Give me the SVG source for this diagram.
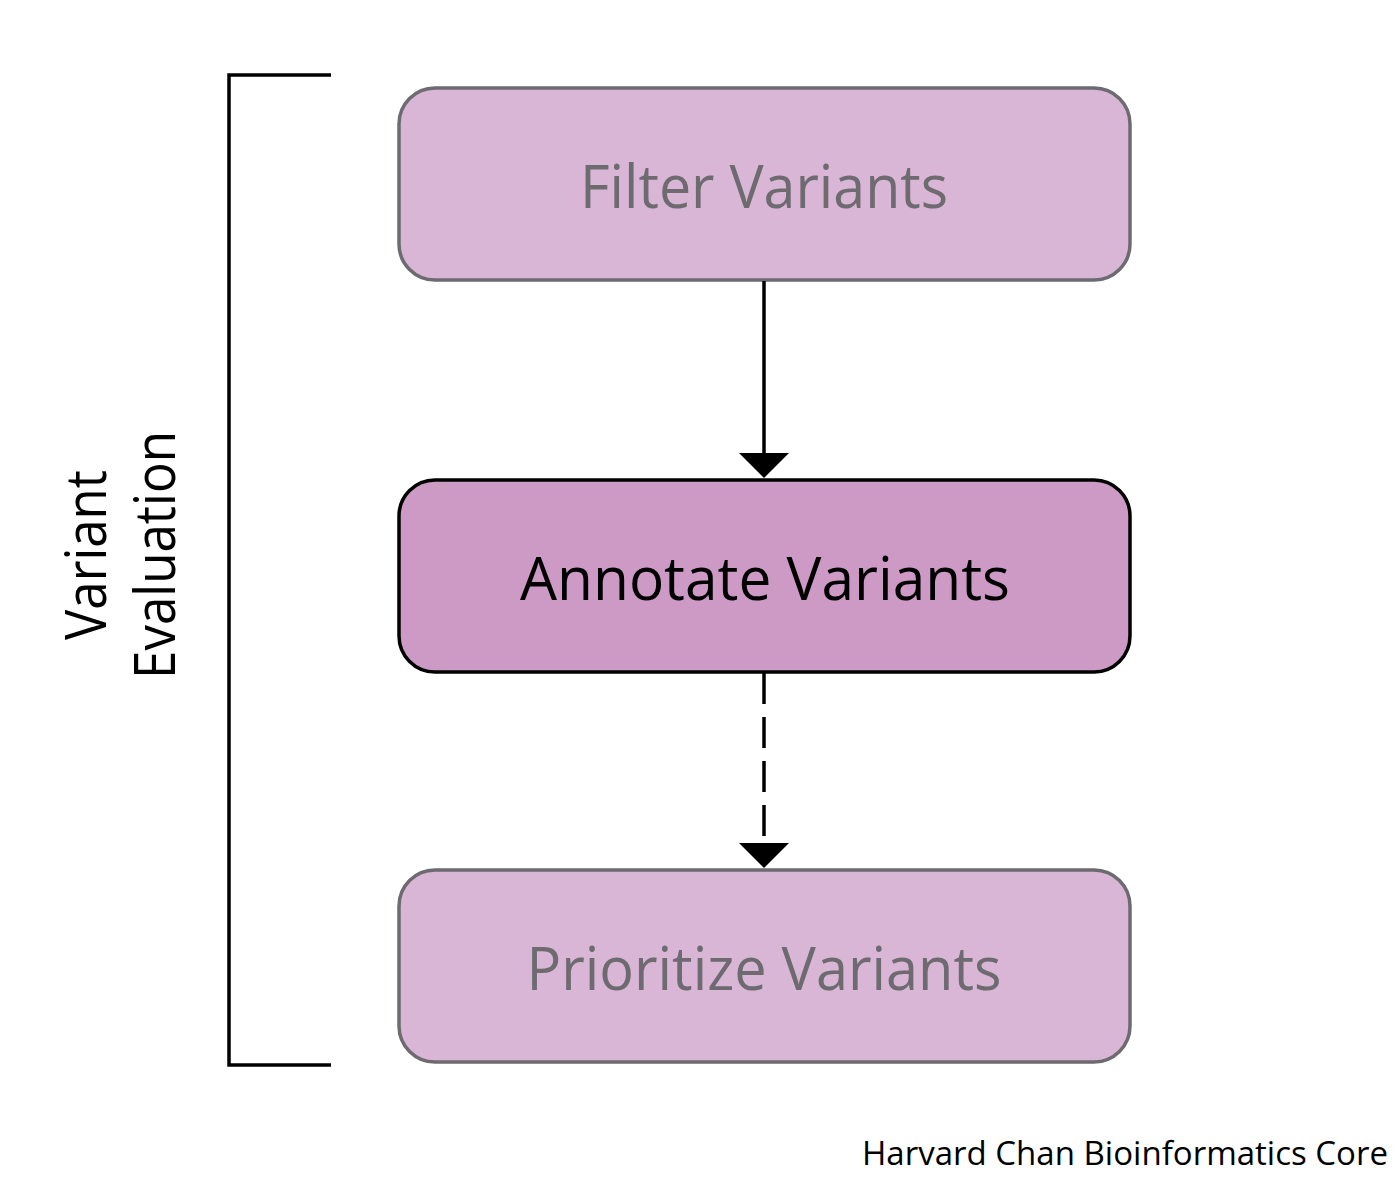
<svg xmlns="http://www.w3.org/2000/svg" width="1399" height="1199" viewBox="0 0 1399 1199">
<defs>
<style>
.box{stroke-width:3.5}
.light{fill:#d9b6d6;stroke:#6d6a70}
.dark{fill:#cd9ac6;stroke:#000}
.lbl{font-family:"Open Sans","Noto Sans",sans-serif;font-size:60px;text-anchor:middle}
.gray{fill:#6d6a70}
.blk{fill:#000}
.side{font-family:"Open Sans","Noto Sans",sans-serif;font-size:56px;text-anchor:middle;fill:#000}
.conn{stroke:#000;stroke-width:3.5;fill:none}
</style>
<marker id="ah" markerWidth="25" markerHeight="50" refX="17" refY="25" viewBox="0 0 25 50" markerUnits="userSpaceOnUse" orient="auto">
<path d="M0,0 L25,25 L0,50 Z" fill="#000"/>
</marker>
</defs>
<rect width="1399" height="1199" fill="#fff"/>
<g id="bracket">
<path class="conn" d="M331,75 H229 V1065 H331"/>
</g>
<g id="side-label">
<text class="side" transform="translate(106,555) rotate(-90)" textLength="170" lengthAdjust="spacingAndGlyphs">Variant</text>
<text class="side" transform="translate(175,555) rotate(-90)" textLength="248" lengthAdjust="spacingAndGlyphs">Evaluation</text>
</g>
<g id="node-filter">
<rect class="box light" x="399" y="88" width="731" height="192" rx="36"/>
<text class="lbl gray" x="764" y="208" textLength="368" lengthAdjust="spacingAndGlyphs">Filter Variants</text>
</g>
<g id="node-annotate">
<rect class="box dark" x="399" y="480" width="731" height="192" rx="36"/>
<text class="lbl blk" x="765" y="600" textLength="490" lengthAdjust="spacingAndGlyphs">Annotate Variants</text>
</g>
<g id="node-prioritize">
<rect class="box light" x="399" y="870" width="731" height="192" rx="36"/>
<text class="lbl gray" x="764" y="990" textLength="475" lengthAdjust="spacingAndGlyphs">Prioritize Variants</text>
</g>
<g id="connectors">
<line class="conn" x1="764" y1="281" x2="764" y2="470" marker-end="url(#ah)"/>
<line class="conn" x1="764" y1="673" x2="764" y2="860" stroke-dasharray="31 13" marker-end="url(#ah)"/>
</g>
<text x="1125" y="1165" font-family="'Open Sans','Noto Sans',sans-serif" font-size="33" text-anchor="middle" fill="#000" textLength="526" lengthAdjust="spacingAndGlyphs">Harvard Chan Bioinformatics Core</text>
</svg>
